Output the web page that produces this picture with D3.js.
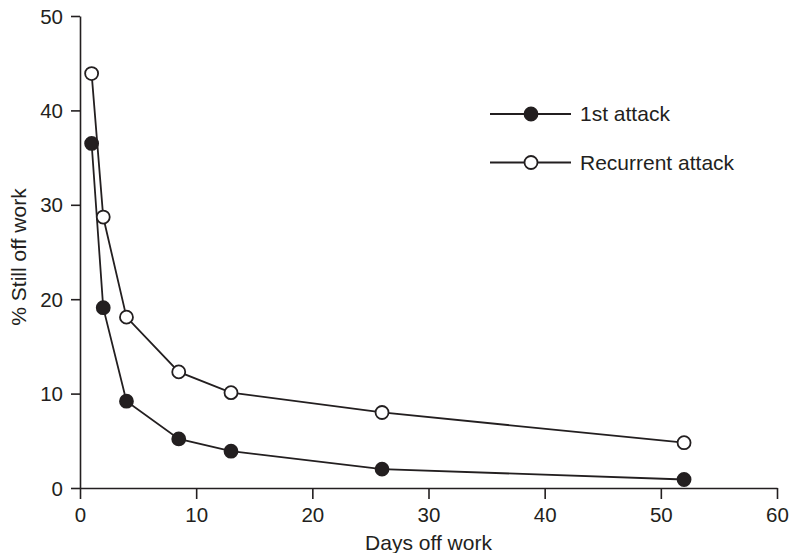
<!DOCTYPE html>
<html>
<head>
<meta charset="utf-8">
<script src="https://cdn.jsdelivr.net/npm/d3@7"></script>
<style>
  body { margin: 0; background: #fff; }
  text { font-family: "Liberation Sans", Arial, sans-serif; fill: #231f20; }
</style>
</head>
<body>
<script>
// days off work vs % still off
var days = [1, 2, 4, 8.5, 13, 26, 52]
var firstAttack = [36.5, 19.1, 9.2, 5.2, 3.9, 2.0, 0.9]
var recurrentAttack = [43.9, 28.7, 18.1, 12.3, 10.1, 8.0, 4.8]
var xTicks = [0, 10, 20, 30, 40, 50, 60]
var yTicks = [0, 10, 20, 30, 40, 50]

var width = 791
var height = 553
var ink = "#231f20"

var svg = d3.select("body").append("svg")
    .attr("width", width)
    .attr("height", height)

var x = d3.scaleLinear().domain([0, 60]).range([80, 777])
var y = d3.scaleLinear().domain([0, 50]).range([488, 16])

var xAxis = svg.append("g")
    .attr("transform", "translate(0," + y(0) + ")")
    .call(d3.axisBottom(x).tickValues(xTicks).tickSize(11).tickSizeOuter(0).tickPadding(8))
var yAxis = svg.append("g")
    .attr("transform", "translate(" + x(0) + ",0)")
    .call(d3.axisLeft(y).tickValues(yTicks).tickSize(9).tickSizeOuter(0).tickPadding(8))

svg.selectAll(".domain, .tick line").attr("stroke", ink).attr("stroke-width", 1.6)
svg.selectAll(".tick text").style("font-size", "20.5px").attr("fill", ink)
yAxis.selectAll(".tick text").attr("dy", "0.35em")

svg.append("text")
    .attr("x", (x(0) + x(60)) / 2)
    .attr("y", 550)
    .attr("text-anchor", "middle")
    .style("font-size", "21px")
    .text("Days off work")

svg.append("text")
    .attr("transform", "translate(26,257) rotate(-90)")
    .attr("text-anchor", "middle")
    .style("font-size", "21px")
    .text("% Still off work")

var line = d3.line()
    .x(function(d){ return x(d[0]) })
    .y(function(d){ return y(d[1]) })

var series = [
  {name: "1st attack", values: firstAttack, fill: ink},
  {name: "Recurrent attack", values: recurrentAttack, fill: "#fff"}
]

series.forEach(function(s){
  var pts = days.map(function(d, i){ return [d, s.values[i]] })
  svg.append("path")
    .datum(pts)
    .attr("d", line)
    .attr("fill", "none")
    .attr("stroke", ink)
    .attr("stroke-width", 1.8)
  svg.selectAll(null)
    .data(pts)
    .enter().append("circle")
    .attr("cx", function(d){ return x(d[0]) })
    .attr("cy", function(d){ return y(d[1]) })
    .attr("r", 6.5)
    .attr("fill", s.fill)
    .attr("stroke", ink)
    .attr("stroke-width", 1.8)
})

// legend
var legend = svg.selectAll(".legend")
    .data(series)
    .enter().append("g")
    .attr("transform", function(d, i){ return "translate(490," + (114 + i * 48.5) + ")" })

legend.append("line")
    .attr("x1", 0).attr("x2", 81)
    .attr("stroke", ink).attr("stroke-width", 1.8)
legend.append("circle")
    .attr("cx", 41).attr("r", 6.5)
    .attr("fill", function(d){ return d.fill })
    .attr("stroke", ink).attr("stroke-width", 1.8)
legend.append("text")
    .attr("x", 90).attr("dy", "0.35em")
    .style("font-size", "21px")
    .text(function(d){ return d.name })
</script>
</body>
</html>
